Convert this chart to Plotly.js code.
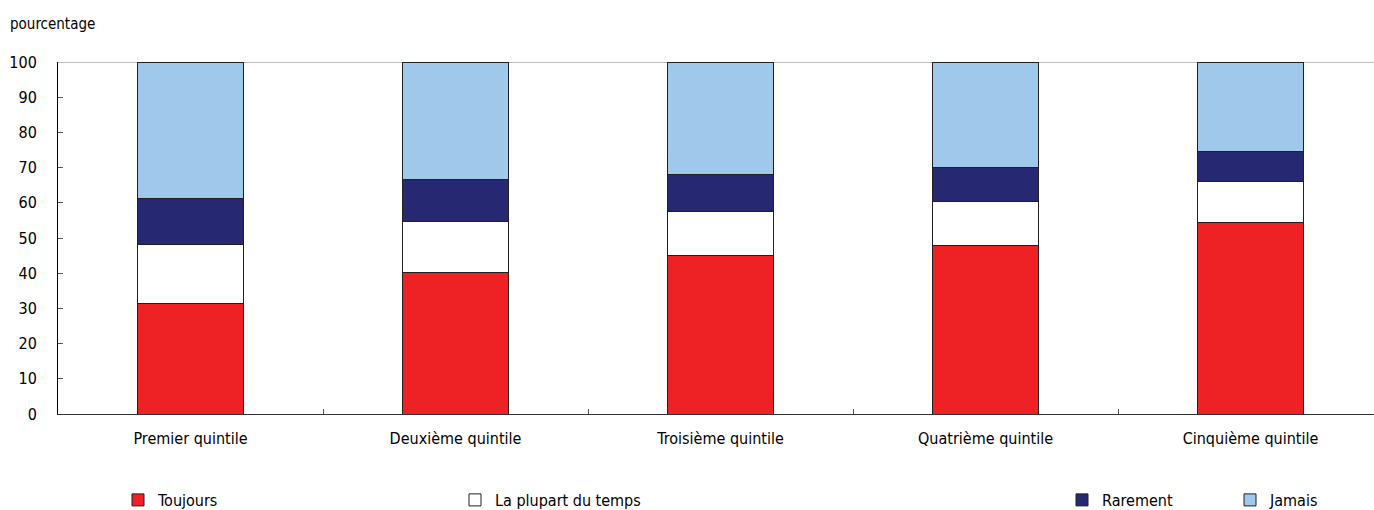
<!DOCTYPE html>
<html>
<head>
<meta charset="utf-8">
<script src="https://cdn.plot.ly/plotly-3.0.1.min.js"></script>
<style>
html,body{margin:0;padding:0;background:#fff;}
#chart{width:1374px;height:510px;}
</style>
</head>
<body>
<div id="chart"></div>
<script>
const categories = ["Premier quintile", "Deuxième quintile", "Troisième quintile", "Quatrième quintile", "Cinquième quintile"];
const toujours = [31.3, 40.1, 45.1, 48.0, 54.3];
const laPlupart = [16.9, 14.5, 12.5, 12.5, 11.7];
const rarement = [13.1, 11.9, 10.3, 9.6, 8.6];
const jamais = [38.7, 33.5, 32.1, 29.9, 25.4];
const seriesNames = ["Toujours", "La plupart du temps", "Rarement", "Jamais"];
const seriesColors = ["#ee2224", "#ffffff", "#262871", "#9fc8ea"];
const yTicks = [0, 10, 20, 30, 40, 50, 60, 70, 80, 90, 100];

const FONT = "'Liberation Sans Narrow', 'Arial Narrow', 'DejaVu Sans Condensed', sans-serif";
const values = [toujours, laPlupart, rarement, jamais];
const legendIds = ["legend", "legend2", "legend3", "legend4"];
const legendX = [118, 455, 1062, 1230];

const traces = values.map((v, i) => ({
  type: "bar",
  x: categories,
  y: v,
  name: seriesNames[i],
  legend: legendIds[i],
  width: 0.4,
  marker: {color: seriesColors[i], line: {color: "#231f20", width: 1}},
  hoverinfo: "x+y+name"
}));

const layout = {
  width: 1374, height: 510,
  margin: {l: 58, r: 0, t: 62, b: 96},
  barmode: "stack",
  paper_bgcolor: "#fff",
  plot_bgcolor: "#fff",
  font: {family: FONT, size: 16, color: "#000"},
  xaxis: {
    type: "category",
    range: [-0.5, 4.466],
    tickson: "boundaries",
    ticks: "inside",
    ticklen: 5,
    tickcolor: "#555",
    showline: true,
    linecolor: "#333",
    linewidth: 1,
    showgrid: false,
    zeroline: false,
    tickfont: {family: FONT, size: 16},
    ticklabelstandoff: 10,
    fixedrange: true
  },
  yaxis: {
    range: [0, 100],
    tickvals: yTicks,
    ticks: "inside",
    ticklen: 5,
    tickcolor: "#555",
    showline: true,
    linecolor: "#000",
    linewidth: 1,
    showgrid: false,
    zeroline: false,
    tickfont: {family: FONT, size: 16},
    ticklabelstandoff: 17,
    fixedrange: true
  },
  shapes: [{
    type: "line", xref: "paper", yref: "y", x0: 0, x1: 1, y0: 100, y1: 100,
    line: {color: "#808080", width: 1}, layer: "below"
  }],
  annotations: [{
    text: "pourcentage", xref: "paper", yref: "paper",
    x: 0, y: 1, xshift: -50, yshift: 38, xanchor: "left", yanchor: "middle",
    showarrow: false, font: {family: FONT, size: 15}
  }],
  showlegend: true
};

legendIds.forEach((id, i) => {
  layout[id] = {
    xref: "container", yref: "container",
    x: legendX[i] / 1374, y: 10 / 510,
    xanchor: "left", yanchor: "middle",
    orientation: "h",
    bgcolor: "rgba(0,0,0,0)",
    font: {family: FONT, size: 16},
    itemwidth: 30,
    traceorder: "normal"
  };
});

Plotly.newPlot("chart", traces, layout, {displayModeBar: false, staticPlot: true});
</script>
</body>
</html>
